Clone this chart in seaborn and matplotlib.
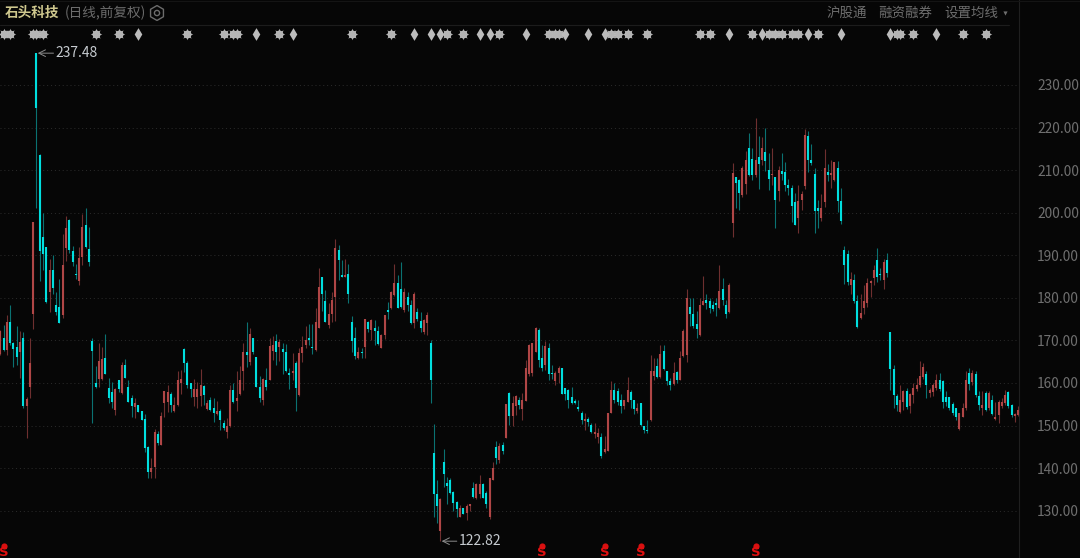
import pandas as pd
import matplotlib.pyplot as plt
import matplotlib.transforms as mtransforms
from matplotlib.lines import Line2D
import seaborn as sns

# precios, diez velas por fila
opens = [
    166.7,170.5,167.7,174.2,169.4,168.5,167.3,170.6,154.6,159.1,
    176.3,237.48,213.6,194.3,192,181.4,186.5,178.3,177.9,175.9,
    191.6,198.2,190.9,185.7,183.9,189.6,197,191.4,169.8,159.9,
    161,161,165.9,158.7,157.9,153.6,160.7,157.7,164.2,159.1,
    156.4,154.4,154.8,153.4,151.6,145,139.1,140.3,148.1,145.4,
    155.4,155.6,157.5,153.4,154.8,159.9,167.9,164.6,159.9,156.6,
    156.7,157,159.3,153.9,156,154,152.7,153.4,150.7,148.5,
    149.9,158.3,155.7,157.3,162.8,167.2,165,170.6,166.1,159.1,
    156,160.7,160.7,167.5,169.8,168.5,168,167.3,162.3,162.3,
    164.8,157.2,167,168.9,170.6,168.5,167.8,172.8,184.9,179.2,
    173.6,176.3,180.2,191.2,185.3,184.9,185.7,174.4,170.6,165.9,
    167.2,168.5,174.2,172.4,172.8,172.2,168.3,171.3,177.1,177.5,
    180.6,183.4,182,177.1,180.2,178.3,174,176.6,174.5,171.9,
    174,169.3,143.6,133.8,125.2,141.4,136.6,137.3,134.4,132,
    128.5,130.5,129.5,131.1,135.2,133,133.8,136.3,134.2,128.5,
    137.3,144.9,142,145.5,147,157.7,152.2,154.5,156.1,153.8,
    155.7,162,162.3,167.3,172.4,165.9,164.3,168.2,162.3,160.4,
    162.3,163.4,158.7,158.4,156.6,155.7,154.3,153,151,151.6,
    150.2,148,147.3,147.3,143.8,144,153,158.4,158.2,156.1,
    154.5,155.5,157.9,156.1,153.4,155.3,150,149,151.2,161.6,
    163.9,161.3,167.4,162.7,160.4,159.8,162.6,160.8,166.3,166.6,
    177.8,176.1,173.9,171.2,178.4,179.4,179.2,178.3,178.8,177.7,
    182,178.4,176.7,197.6,208.3,207.7,204.2,206.7,215.2,212.7,
    208.9,213.2,212.4,214.2,210,208.9,208.3,205,209.8,209.5,
    206.4,205.9,202.5,198.8,202.9,206.2,217.9,212.4,209,201,
    198.8,202.5,209.5,208.8,207.7,210.5,202.8,191.2,190.2,183,
    184.1,179.2,175.2,177.5,178.8,183.5,184.7,189,185.6,184.3,
    188.8,172,163.3,157,153.1,155.6,158,154.5,157.2,158.6,
    159.4,161.5,162,157.6,157.8,158.8,160.7,160.5,156.8,156.6,
    155,154.2,149.2,152.1,154.1,162.3,160.3,162,157,154.1,
    157.6,154.1,156,151.5,152.5,154.5,155.2,157.8,154.9,152.3,152.5,
]
closes = [
    172.2,167.8,174.4,169.3,168,166.1,169.7,154.6,156.2,164.7,
    197.8,224.5,191,190.2,179,186.6,182.3,176.7,174,187.8,
    196.4,191.2,188.3,185.3,189.4,196.7,191.9,188.4,167.5,159.1,
    165.2,165.7,162.2,156.4,155.6,158.5,158.5,164.2,161.2,155.6,
    154.6,155.4,153.1,151.3,144.6,139,140,148.4,145.8,152.2,
    158.1,157.9,154.8,154.9,160.7,161,164.6,159.6,158.5,158.5,
    158.5,159.5,157.1,155.2,153.6,153,153.4,151.3,149.3,149.9,
    158.3,155.6,156.5,160.7,167.3,166.5,171.4,167.2,159.1,156.4,
    161,159.1,168.7,168.8,167.2,169.7,167.3,162.8,161.9,162.7,
    158.9,167,168.5,170,170,168.1,174.4,182.6,180.8,174.4,
    176.3,179.5,191.6,188.8,184.9,185.3,180.8,169.8,166.4,167.3,
    167,175,172.7,174.8,172.2,169.1,171.3,175.9,176.6,181.4,
    183.4,177.7,177.9,181.4,178.3,174,181,175,173,174.8,
    175.9,160.7,133.8,131.1,132.8,138.7,135.8,134.2,131.9,130.3,
    130.7,129.3,131.1,131.5,133.3,136.2,136.2,133,131.5,137.6,
    140,142.3,145.3,144,155.1,152.2,155.3,156.9,154.8,156.1,
    163.5,169,169.3,172.8,165.4,163.5,168.6,162.1,162,162.3,
    163.5,157.4,157.4,156.1,155.2,155.2,153.8,151.4,151.6,150.9,
    148.5,148.5,148.3,142.8,144.4,153,158.4,156.1,155.5,154.5,
    156.1,158.4,155.9,153.8,154.1,150.2,149,148.7,162.9,162.7,
    161.3,166.8,163.3,160.4,159.6,162.3,160.8,165.9,172.2,180,
    176.1,173.4,172.6,178.4,179.2,178.8,177.5,177.3,178.3,181.6,
    179.4,176.1,183.1,209.3,207,204.6,210.5,212.4,208.9,208.8,
    212.4,211.4,215.2,212.2,208,209.1,203,210,209,206.6,
    205.9,201.5,197.2,202.8,204.4,218.3,212.4,211.6,200.5,200.3,
    201,210.5,208.8,209.3,211.9,202.8,198,187.7,183.8,184.5,
    179.2,173.1,176.5,179.2,183.5,183.9,186.6,185,185.3,188.4,
    185.9,163.3,157.2,154.8,156,158,154.4,157.3,158.8,159.4,
    161.7,163.8,159.5,158.4,159.4,160.7,158.6,155.6,155.6,154.1,
    152.9,152.1,152.9,154.1,160.7,159.7,162.3,157.2,154.7,154.8,
    153.7,157.6,152.7,151.9,155.6,155.6,157.2,154.5,152.4,152.7,153.7,
]
highs = [
    172.5,173.6,176,178.4,169.6,173.4,172.2,172,156.7,170.6,
    197.8,237.48,213.7,200,192,189.2,190,181.4,184.5,194.9,
    199.3,198.4,192.2,187.9,192,199.8,201.1,196.7,170.6,164,
    169.3,168.5,171.4,161.2,160.3,158.7,160.8,165,165.6,160.7,
    157.1,156.4,154.8,153.4,152.8,145.2,142.3,149.1,148.7,153.1,
    158.1,159.6,157.8,156.7,162.8,163,168.1,165.1,159.9,161,
    160.3,163.2,159.6,156,156.7,156.5,155.7,153.8,151.3,151.7,
    159.5,159.9,162.8,164,169.3,174.2,172.8,170.6,166.1,161.7,
    161.2,163.6,170.6,171.1,171.4,170.3,169.5,169.1,163.6,167,
    165.2,168.1,171.1,173.4,173.8,173.8,177.7,187,184.9,181.8,
    178.7,181.4,193.8,192.3,188.8,189.2,188,175.8,173.2,168.5,
    168.3,175,174.5,175,174.8,173.4,171.5,175.9,178.9,181.6,
    187.9,185.3,188.4,182.3,181.3,179.5,181.3,177.7,176.7,175,
    176.7,170,150.4,137.3,133,144.4,137.9,137.7,134.6,132.3,
    131.3,130.7,131.5,131.6,136.7,136.6,138.4,136.6,134.6,137.7,
    141.5,146.3,145.9,146.2,155.1,157.8,156.9,157.1,156.6,157.7,
    165.5,169.1,169.3,173.2,172.8,169,169.8,169.4,164.3,162.7,
    163.9,163.4,158.8,158.5,159,156.2,156.1,153.4,153,152,
    150.6,150.6,149.3,148.3,147.5,153,160.5,160,158.7,157.4,
    156.1,161.3,158.4,156.1,155.3,155.3,150,151.4,166.5,165.9,
    165.9,168.8,168.8,162.9,161.2,164.9,162.9,167.4,172.6,182,
    180,180,177,180,185.1,180.8,180,179.2,180,187.8,
    184.7,179.4,183.5,211.6,208.3,207.9,210.9,214.5,218.7,215.2,
    222.2,217.9,217.7,219.8,214,215.2,208.3,210.9,214,212,
    208,206.6,204.6,206.6,205.2,219.7,219.2,216.1,210.6,203,
    204.4,215,211.4,212.4,212,212.2,205.8,192.1,191.3,186.1,
    185.6,180.6,180.9,183.1,184.7,184.3,187.8,191.7,187,189.2,
    190.5,172,164.2,157.3,159.5,158.4,158.8,157.6,159.9,161.1,
    165.2,164.8,162.8,158.8,160,162,162.3,160.7,158,156.8,
    155.6,154.2,152.9,155.2,162.8,163.4,163,162.7,158.1,158,
    158,158.1,157.2,155.6,156,156.4,158.4,158,155,152.9,154.5,
]
lows = [
    166.5,167.5,166.5,168.9,163.8,164.2,161.2,154.2,147.1,156.4,
    172.6,201,184,186.5,178.8,176.7,181,176,174,175.3,
    188.6,190.6,187.5,184.5,183,187.8,191.7,187.5,150.5,158.8,
    159.1,160.6,162.2,155.4,154,152.4,157.9,157.5,161.2,155.6,
    152,151.8,153.1,151.3,143.8,137.6,137.6,137.6,145.4,145.4,
    152,153.2,153.2,153.2,154.6,157.5,162.5,158.9,156.8,154.6,
    154,154.6,154.8,153.6,153.4,150.9,152.4,149,148.9,147.1,
    149.7,155.2,153.4,157.1,158.3,163.8,164.2,166.7,159.1,155.6,
    154.8,158.3,160.7,165.4,164.2,165.2,162,162.5,158.6,160.7,
    153.4,157,165,168.1,168.9,166.7,167.5,172.8,176.9,174.2,
    172.8,174.4,174.5,184.3,184.9,184.9,178.7,167.2,165.6,165.6,
    165.8,165.8,172,170,168.9,168.9,168.3,170.3,175,177.3,
    180.5,177.5,177.5,176.7,176.9,173.8,173,174.5,171.9,171.6,
    171.3,155.2,128.5,127,122.82,135.5,131.6,133.8,129.8,128.5,
    128.4,129.1,127.7,129.9,133,132.7,133,132.9,130.5,128,
    137.1,140.9,141.3,143.2,147,150.1,150,152.4,153.8,151.4,
    155.7,161.6,161.7,167.2,163.8,162.9,163.1,160.8,161,159.5,
    160,157.4,156.1,154,155,155,153.5,150.4,149,149.8,
    148.3,147,145.9,142.3,143.5,144,153,155.3,154.8,153,
    153.8,155.5,154,152.6,153,149.8,148.3,148.3,151,160.8,
    161.2,161.2,163.1,159.6,158.4,159.6,160,160.8,166,165,
    173.4,173,170.6,171,178.4,177.3,176.5,176.9,175.7,177.3,
    178.4,175.2,176.5,194.2,201.1,200.7,203.8,204.4,208.7,207.7,
    208.3,205.6,211.2,209.7,205.4,206.6,196.3,202.8,207.7,205.2,
    204.2,197.8,197,195.2,200.7,205.6,209.5,211.3,195.2,196.4,
    198.1,201.3,207.5,205.9,207.5,200.2,197.3,183.3,183.1,181,
    178.8,172.8,175,176.1,177.8,180.2,183.1,183.8,184.1,182,
    185,158.4,154.1,153.3,153,153.7,153.9,152.9,155.2,158.1,
    159.1,160.9,156.4,156.8,157,158.4,158.1,154.1,154.5,153.7,
    152.5,151.3,149,151.9,153.7,158.4,159.5,156.6,153.7,152.5,
    153.3,153.7,152.5,151.3,150.5,154,154.7,154.2,152.1,150.9,152.3,
]

star_days = [1,3,10,11,13,29,36,57,68,71,72,85,107,119,136,141,152,167,169,170,
             186,188,191,197,213,216,229,234,236,238,241,243,249,273,274,278,293,300]
bar_days = [42,78,89,126,131,134,146,149,160,172,179,184,222,232,246,256,271,285]
s_days = [1,165,184,195,230]

price_ticks = [130,140,150,160,170,180,190,200,210,220,230]
high_label = 237.48
low_label = 122.82

name_text = "石头科技"
mode_text = "(日线,前复权)"
menu_items = ["沪股通","融资融券","设置均线"]

BG = "#060606"
UP_BODY, DOWN_BODY = "#b04646", "#00dede"
UP_WICK, DOWN_WICK = "#6e2f2f", "#0a7272"

sns.set_theme(style="dark", rc={"axes.facecolor": BG, "figure.facecolor": BG})
plt.rcParams['font.family'] = ['Noto Sans CJK SC', 'DejaVu Sans']

wicks, bodies = [], []
for i in range(len(opens)):
    kind = "up" if closes[i] >= opens[i] else "down"
    wicks += [(i, lows[i], kind), (i, highs[i], kind)]
    bodies += [(i, opens[i], kind), (i, closes[i], kind)]
wicks = pd.DataFrame(wicks, columns=["day", "price", "kind"])
bodies = pd.DataFrame(bodies, columns=["day", "price", "kind"])

fig = plt.figure(figsize=(10.8, 5.58), dpi=100)
ax = fig.add_axes([0, 0, 1019 / 1080, 1])

sns.lineplot(data=wicks, x="day", y="price", hue="kind", units="day", estimator=None, sort=False,
             palette={"up": UP_WICK, "down": DOWN_WICK}, linewidth=0.8, legend=False,
             solid_capstyle="butt", ax=ax)
sns.lineplot(data=bodies, x="day", y="price", hue="kind", units="day", estimator=None, sort=False,
             palette={"up": UP_BODY, "down": DOWN_BODY}, linewidth=1.5, legend=False,
             solid_capstyle="butt", ax=ax)

ax.set_xlim(-0.09, 310.2)
ax.set_ylim(118.87, 249.97)
ax.set_xticks([])
ax.yaxis.tick_right()
ax.set_yticks(price_ticks)
ax.set_yticklabels([f"{p:.2f}" for p in price_ticks])
ax.tick_params(axis="y", length=0, pad=13, labelsize=9.9, labelcolor="#6f6f6f")
ax.grid(axis="y", color="#2c2c2c", linestyle=(0, (1, 3)), linewidth=0.7)
for side in ["left", "top", "bottom"]:
    ax.spines[side].set_visible(False)
ax.spines["right"].set_color("#1f1f1f")
ax.spines["right"].set_linewidth(0.8)

# fila superior de marcas
row_star = pd.DataFrame({"day": star_days, "y": 242.0})
row_bar = pd.DataFrame({"day": bar_days, "y": 242.0})
sns.scatterplot(data=row_star, x="day", y="y", marker="o", s=32, color="#c4c4c4", linewidth=0, legend=False, ax=ax)
sns.scatterplot(data=row_star, x="day", y="y", marker=(8, 1, 0), s=70, color="#b4b4b4", linewidth=0, legend=False, ax=ax)
sns.scatterplot(data=row_bar, x="day", y="y", marker="d", s=42, color="#bcbcbc", linewidth=0, legend=False, ax=ax)

# marcas S abajo
row_s = pd.DataFrame({"day": s_days, "y": 121.6})
sns.scatterplot(data=row_s, x="day", y="y", marker="o", s=20, color="#d81010", linewidth=0, legend=False, ax=ax)
for d in s_days:
    ax.text(d, 120.1, "S", color="#e01010", fontsize=9.5, fontweight="bold", ha="center", va="center",
            family="DejaVu Sans")
ax.set_xlabel("")
ax.set_ylabel("")

# maximo y minimo
ax.annotate("", xy=(11.4, high_label), xytext=(16.2, high_label),
            arrowprops=dict(arrowstyle="->", color="#8c8c8c", lw=0.7, shrinkA=0, shrinkB=0))
ax.text(16.9, high_label, f"{high_label:.2f}", color="#c6cbd0", fontsize=10, va="center")
ax.annotate("", xy=(134.4, low_label), xytext=(139.0, low_label),
            arrowprops=dict(arrowstyle="->", color="#8c8c8c", lw=0.7, shrinkA=0, shrinkB=0))
ax.text(139.7, low_label, f"{low_label:.2f}", color="#c6cbd0", fontsize=10, va="center")

# cabecera en pixeles
px = mtransforms.Affine2D().scale(1 / 1080, -1 / 558).translate(0, 1) + fig.transFigure
fig.add_artist(Line2D([0, 1009], [25, 25], color="#1c1c1c", lw=0.8, transform=px))
fig.add_artist(Line2D([0, 1080], [0.5, 0.5], color="#141414", lw=0.8, transform=px))
fig.text(5, 13, name_text, color="#cfc88e", fontsize=9.8, fontweight="bold", va="center", transform=px)
fig.text(65, 13, mode_text, color="#6c6c6c", fontsize=9.8, va="center", transform=px)
ax.scatter([157], [13], marker="h", s=115, facecolor="none", edgecolor="#6c6c6c", linewidth=1.0, transform=px, clip_on=False)
ax.scatter([157], [13], marker="o", s=14, facecolor="none", edgecolor="#6c6c6c", linewidth=1.0, transform=px, clip_on=False)
for name, x0 in zip(menu_items, [827, 878, 944]):
    fig.text(x0, 13, name, color="#6e6e6e", fontsize=9.7, va="center", transform=px)
ax.scatter([1005], [13], marker="v", s=9, color="#6e6e6e", linewidth=0, transform=px, clip_on=False)

fig.savefig("out.png", dpi=100, facecolor=BG)
